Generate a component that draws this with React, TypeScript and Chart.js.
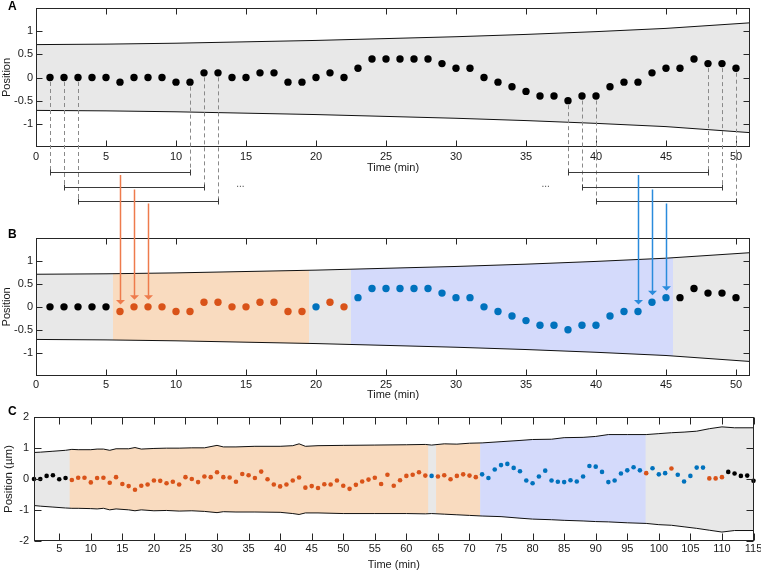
import React, { useEffect, useRef } from 'react';
import { Chart, registerables } from 'chart.js';
Chart.register(...registerables);

const FONT = '"Liberation Sans", Arial, Helvetica, sans-serif';

// ---------- Panels A & B ----------
const timeAB = [1, 2, 3, 4, 5, 6, 7, 8, 9, 10, 11, 12, 13, 14, 15, 16, 17, 18, 19, 20, 21, 22, 23, 24, 25,
  26, 27, 28, 29, 30, 31, 32, 33, 34, 35, 36, 37, 38, 39, 40, 41, 42, 43, 44, 45, 46, 47, 48, 49, 50];
const posAB = [0, 0, 0, 0, 0, -0.1, 0, 0, 0, -0.1, -0.1, 0.1, 0.1, 0, 0, 0.1, 0.1, -0.1, -0.1, 0, 0.1, 0, 0.2, 0.4, 0.4,
  0.4, 0.4, 0.4, 0.3, 0.2, 0.2, 0, -0.1, -0.2, -0.3, -0.4, -0.4, -0.5, -0.4, -0.4, -0.2, -0.1, -0.1, 0.1, 0.2, 0.2, 0.4, 0.3, 0.3, 0.2];
// 0 = unassigned (black), 1 = orange, 2 = blue
const classB = '00000' + '11111111111111' + '2' + '11' + '22222222222222222222222' + '00000';

const envABTime = [0, 5, 10, 15, 20, 25, 30, 35, 40, 45, 51];
const envABUpper = [0.71, 0.72, 0.74, 0.77, 0.8, 0.84, 0.88, 0.93, 0.99, 1.06, 1.18];
const envABLower = [-0.71, -0.72, -0.74, -0.77, -0.8, -0.84, -0.88, -0.93, -0.99, -1.06, -1.19];

const regionBStart = [5.5, 22.5];
const regionBEnd = [19.5, 45.5];
const regionBClass = [1, 2];

const windowStart = [1, 2, 3, 38, 39, 40];
const windowEnd = [11, 12, 13, 48, 49, 50];
const windowRow = [0, 1, 2, 0, 1, 2];
const arrowTime = [6, 7, 8, 43, 44, 45];
const ellipsisTime = [14.6, 36.4];

const xTicksAB = [0, 5, 10, 15, 20, 25, 30, 35, 40, 45, 50];
const yTicksAB = [-1, -0.5, 0, 0.5, 1];
const yTickLabelsAB = ['-1', '-0.5', '0', '0.5', '1'];

// ---------- Panel C ----------
const timeC = [1, 2, 3, 4, 5, 6, 7, 8, 9, 10, 11, 12, 13, 14, 15, 16, 17, 18, 19, 20,
  21, 22, 23, 24, 25, 26, 27, 28, 29, 30, 31, 32, 33, 34, 35, 36, 37, 38, 39, 40,
  41, 42, 43, 44, 45, 46, 47, 48, 49, 50, 51, 52, 53, 54, 55, 56, 57, 58, 59, 60,
  61, 62, 63, 64, 65, 66, 67, 68, 69, 70, 71, 72, 73, 74, 75, 76, 77, 78, 79, 80,
  81, 82, 83, 84, 85, 86, 87, 88, 89, 90, 91, 92, 93, 94, 95, 96, 97, 98, 99, 100,
  101, 102, 103, 104, 105, 106, 107, 108, 109, 110, 111, 112, 113, 114, 115];
const posC = [0, 0, 0.1, 0.12, -0.01, 0.03, -0.03, 0.04, 0.04, -0.11,
  0.03, 0.04, -0.12, 0.06, -0.16, -0.23, -0.35, -0.22, -0.18, -0.05,
  -0.06, -0.14, -0.09, -0.18, 0.06, 0, -0.1, 0.08, 0.06, 0.22,
  0.06, 0.05, -0.09, 0.16, 0.12, 0.03, 0.24, -0.01, -0.18, -0.24,
  -0.18, -0.05, 0.05, -0.28, -0.23, -0.29, -0.17, -0.18, -0.05, -0.22,
  -0.32, -0.19, -0.08, -0.02, 0.04, -0.16, 0.14, -0.22, -0.04, 0.1,
  0.14, 0.22, 0.11, 0.1, 0.08, 0.12, -0.01, 0.1, 0.15, 0.11,
  0.06, 0.15, 0.03, 0.31, 0.45, 0.49, 0.36, 0.25, -0.05, -0.14,
  0.08, 0.27, -0.05, -0.09, -0.1, -0.04, -0.08, 0.08, 0.42, 0.4,
  0.23, -0.1, -0.05, 0.18, 0.28, 0.38, 0.28, 0.19, 0.35, 0.15,
  0.19, 0.34, 0.14, -0.08, 0.1, 0.37, 0.37, 0.02, 0.02, 0.06,
  0.23, 0.18, 0.1, 0.11, -0.06];
const classC = '000000' +
  '1111111111' + '1111111111' + '1111111111' + '1111111111' + '1111111111' + '1111111' +
  '2' + '1111111' +
  '2222222222' + '2222222222' + '222222' +
  '1' + '222' + '1' + '22222' + '111' + '00000';

const envCTime = [1, 2, 4, 6, 7, 8, 10, 11, 12, 13, 14, 16, 17, 18, 20, 22, 24, 26, 28, 30,
  31, 33, 36, 40, 42, 43, 44, 46, 50, 55, 60, 63, 64, 66, 68, 70, 72, 75, 78, 80,
  83, 85, 88, 90, 92, 95, 98, 100, 102, 104, 106, 108, 110, 112, 115];
const envCUpper = [0.86, 0.87, 0.9, 0.93, 0.96, 0.95, 0.95, 0.97, 0.97, 0.93, 0.98, 0.98, 1.02, 0.97, 0.99, 1.0, 1.0, 1.01, 1.01, 1.09,
  1.04, 1.04, 1.06, 1.06, 1.08, 1.14, 1.06, 1.08, 1.09, 1.1, 1.11, 1.12, 1.1, 1.14, 1.13, 1.16, 1.17, 1.21, 1.25, 1.28,
  1.29, 1.34, 1.35, 1.38, 1.44, 1.44, 1.44, 1.47, 1.5, 1.52, 1.55, 1.63, 1.69, 1.66, 1.66];
const envCLower = [-0.86, -0.88, -0.91, -0.94, -0.95, -0.95, -0.96, -0.97, -0.95, -1.0, -0.97, -1.0, -1.03, -1.0, -1.03, -1.02, -1.04, -1.03, -1.05, -1.09,
  -1.06, -1.07, -1.07, -1.08, -1.12, -1.15, -1.1, -1.1, -1.12, -1.12, -1.12, -1.13, -1.12, -1.14, -1.16, -1.18, -1.2, -1.22, -1.27, -1.3,
  -1.32, -1.34, -1.36, -1.38, -1.39, -1.42, -1.44, -1.48, -1.5, -1.55, -1.6, -1.66, -1.72, -1.67, -1.67];

const regionCStart = [6.65, 64.7, 71.7];
const regionCEnd = [63.45, 71.7, 97.9];
const regionCClass = [1, 1, 2];

const xTicksC = [5, 10, 15, 20, 25, 30, 35, 40, 45, 50, 55, 60, 65, 70, 75, 80, 85, 90, 95, 100, 105, 110, 115];
const yTicksC = [-2, -1, 0, 1, 2];
const yTickLabelsC = ['-2', '-1', '0', '1', '2'];

// ---------- styles ----------
const CLASS_COLORS = ['#000000', '#D95319', '#0072BD'];
const REGION_COLORS = ['#E8E8E8', '#F9DBBF', '#D4DAFB'];
const ARROW_COLORS = ['#000000', '#EE7B4C', '#2A8BDC'];
const BRACKET_OFFSET = [25, 39.5, 53.5];

function envAt(ts: number[], vs: number[], t: number): number {
  if (t <= ts[0]) return vs[0];
  for (let i = 1; i < ts.length; i++) {
    if (t <= ts[i]) {
      const f = (t - ts[i - 1]) / (ts[i] - ts[i - 1]);
      return vs[i - 1] + f * (vs[i] - vs[i - 1]);
    }
  }
  return vs[vs.length - 1];
}

function shade(chart: any, env: any, t0: number, t1: number, color: string) {
  const { ctx, scales: { x, y } } = chart;
  const ts = [t0, ...env.t.filter((v: number) => v > t0 && v < t1), t1];
  ctx.beginPath();
  ts.forEach((t: number, i: number) => {
    const px = x.getPixelForValue(t);
    const py = y.getPixelForValue(envAt(env.t, env.up, t));
    if (i) ctx.lineTo(px, py); else ctx.moveTo(px, py);
  });
  for (let i = ts.length - 1; i >= 0; i--) {
    ctx.lineTo(x.getPixelForValue(ts[i]), y.getPixelForValue(envAt(env.t, env.lo, ts[i])));
  }
  ctx.closePath();
  ctx.fillStyle = color;
  ctx.fill();
}

function buildChart(canvas: HTMLCanvasElement, cfg: any) {
  const zeroPad = (s: any) => { s.paddingLeft = 0; s.paddingRight = 0; s.paddingTop = 0; s.paddingBottom = 0; };
  const decor = {
    id: 'decor',
    beforeDatasetsDraw(chart: any) {
      const ctx = chart.ctx;
      ctx.save();
      shade(chart, cfg.env, cfg.xMin, cfg.xMax, REGION_COLORS[0]);
      cfg.regionStart.forEach((s: number, i: number) =>
        shade(chart, cfg.env, s, cfg.regionEnd[i], REGION_COLORS[cfg.regionClass[i]]));
      ctx.restore();
    },
    afterDatasetsDraw(chart: any) {
      const { ctx, chartArea: a, scales: { x, y } } = chart;
      ctx.save();
      ctx.strokeStyle = '#262626';
      ctx.lineWidth = 1;
      const L = Math.round(a.left) + 0.5, R = Math.round(a.right) - 0.5;
      const T = Math.round(a.top) + 0.5, B = Math.round(a.bottom) - 0.5;
      ctx.strokeRect(L, T, R - L, B - T);
      ctx.beginPath();
      cfg.xTicks.forEach((v: number) => {
        const px = Math.round(x.getPixelForValue(v)) + 0.5;
        ctx.moveTo(px, B); ctx.lineTo(px, B - cfg.tickLen);
        ctx.moveTo(px, T); ctx.lineTo(px, T + cfg.tickLen);
      });
      cfg.yTicks.forEach((v: number) => {
        const py = Math.round(y.getPixelForValue(v)) + 0.5;
        ctx.moveTo(L, py); ctx.lineTo(L + cfg.tickLen, py);
        ctx.moveTo(R, py); ctx.lineTo(R - cfg.tickLen, py);
      });
      ctx.stroke();
      ctx.fillStyle = '#000';
      ctx.font = `bold 12px ${FONT}`;
      ctx.textAlign = 'left';
      ctx.textBaseline = 'middle';
      ctx.fillText(cfg.letter, 8, cfg.letterY);
      ctx.restore();
      if (cfg.extra) cfg.extra(chart);
    },
  };

  const tickFont = { family: FONT, size: 11 };
  return new Chart(canvas, {
    type: 'scatter',
    data: {
      datasets: [
        {
          data: cfg.points.t.map((t: number, i: number) => ({ x: t, y: cfg.points.v[i] })),
          pointRadius: cfg.radius,
          pointBorderWidth: 0,
          pointBackgroundColor: cfg.points.cls.map((c: number) => CLASS_COLORS[c]),
          pointBorderColor: cfg.points.cls.map((c: number) => CLASS_COLORS[c]),
          clip: false,
        },
        {
          data: cfg.env.t.map((t: number, i: number) => ({ x: t, y: cfg.env.up[i] })),
          showLine: true, pointRadius: 0, borderColor: '#111', borderWidth: 1, tension: 0,
        },
        {
          data: cfg.env.t.map((t: number, i: number) => ({ x: t, y: cfg.env.lo[i] })),
          showLine: true, pointRadius: 0, borderColor: '#111', borderWidth: 1, tension: 0,
        },
      ],
    },
    options: {
      responsive: false,
      animation: false,
      events: [],
      layout: { padding: { left: 0, top: cfg.padTop, right: cfg.padRight, bottom: 0 } },
      plugins: { legend: { display: false }, tooltip: { enabled: false } },
      scales: {
        x: {
          type: 'linear', min: cfg.xMin, max: cfg.xMax,
          afterBuildTicks: (s: any) => { s.ticks = cfg.xTicks.map((v: number) => ({ value: v })); },
          afterFit: (s: any) => { s.height = cfg.xHeight; zeroPad(s); },
          grid: { display: false, drawTicks: false },
          border: { display: false },
          ticks: {
            autoSkip: false, maxRotation: 0, padding: cfg.xLabelPad, color: '#1a1a1a', font: tickFont,
            callback: (v: any) => String(v),
          },
          title: {
            display: true, text: 'Time (min)', color: '#1a1a1a', font: tickFont,
            padding: { top: 0, bottom: cfg.xTitlePad },
          },
        },
        y: {
          type: 'linear', min: cfg.yMin, max: cfg.yMax,
          afterBuildTicks: (s: any) => { s.ticks = cfg.yTicks.map((v: number) => ({ value: v })); },
          afterFit: (s: any) => { s.width = cfg.yWidth; zeroPad(s); },
          grid: { display: false, drawTicks: false },
          border: { display: false },
          ticks: {
            autoSkip: false, padding: cfg.yLabelPad, color: '#1a1a1a', font: tickFont,
            callback: (v: any) => cfg.yLabels[cfg.yTicks.indexOf(v)] ?? String(v),
          },
          title: {
            display: true, text: cfg.yTitle, color: '#1a1a1a', font: { family: FONT, size: cfg.yTitleSize },
            padding: { top: cfg.yTitlePad, bottom: 0 },
          },
        },
      },
    },
    plugins: [decor],
  } as any);
}

const HA = 225, HB = 179, HC = 168;

export default function App() {
  const refA = useRef<HTMLCanvasElement>(null);
  const refB = useRef<HTMLCanvasElement>(null);
  const refC = useRef<HTMLCanvasElement>(null);

  useEffect(() => {
    const clsB = classB.split('').map(Number);
    const clsC = classC.split('').map(Number);
    const envAB = { t: envABTime, up: envABUpper, lo: envABLower };
    const common = {
      xMin: 0, xMax: 51, xTicks: xTicksAB, yMin: -1.5, yMax: 1.5, yTicks: yTicksAB, yLabels: yTickLabelsAB,
      yTitle: 'Position', yTitleSize: 11, yTitlePad: 0, yWidth: 36, padRight: 11, yLabelPad: 3, xLabelPad: 3,
      radius: 3.7, tickLen: 6, env: envAB,
    };

    const extraA = (chart: any) => {
      const { ctx, chartArea: a, scales: { x, y } } = chart;
      ctx.save();
      ctx.strokeStyle = '#8a8a8a';
      ctx.lineWidth = 1;
      ctx.setLineDash([4, 3]);
      windowStart.forEach((s: number, i: number) => {
        const by = Math.round(a.bottom + BRACKET_OFFSET[windowRow[i]]) + 0.5;
        [s, windowEnd[i]].forEach((t) => {
          const px = Math.round(x.getPixelForValue(t)) + 0.5;
          const py = y.getPixelForValue(posAB[timeAB.indexOf(t)]) + 4.5;
          ctx.beginPath(); ctx.moveTo(px, py); ctx.lineTo(px, by); ctx.stroke();
        });
      });
      ctx.setLineDash([]);
      ctx.strokeStyle = '#3a3a3a';
      windowStart.forEach((s: number, i: number) => {
        const by = Math.round(a.bottom + BRACKET_OFFSET[windowRow[i]]) + 0.5;
        const x0 = Math.round(x.getPixelForValue(s)) + 0.5;
        const x1 = Math.round(x.getPixelForValue(windowEnd[i])) + 0.5;
        ctx.beginPath();
        ctx.moveTo(x0, by); ctx.lineTo(x1, by);
        ctx.moveTo(x0, by - 3); ctx.lineTo(x0, by + 3);
        ctx.moveTo(x1, by - 3); ctx.lineTo(x1, by + 3);
        ctx.stroke();
      });
      ctx.fillStyle = '#555';
      ctx.font = `10px ${FONT}`;
      ctx.textAlign = 'center';
      ctx.textBaseline = 'middle';
      ellipsisTime.forEach((t) => ctx.fillText('...', x.getPixelForValue(t), a.bottom + BRACKET_OFFSET[1] - 2));
      ctx.lineWidth = 1.5;
      arrowTime.forEach((t: number, i: number) => {
        const cls = clsB[timeAB.indexOf(t)];
        const px = Math.round(x.getPixelForValue(t)) + 0.5;
        ctx.strokeStyle = ARROW_COLORS[cls];
        ctx.beginPath();
        ctx.moveTo(px, a.bottom + BRACKET_OFFSET[windowRow[i]] + 3);
        ctx.lineTo(px, chart.height + 1);
        ctx.stroke();
      });
      ctx.restore();
    };

    const extraB = (chart: any) => {
      const { ctx, scales: { x, y } } = chart;
      ctx.save();
      ctx.lineWidth = 1.5;
      arrowTime.forEach((t: number) => {
        const idx = timeAB.indexOf(t);
        const cls = clsB[idx];
        const px = Math.round(x.getPixelForValue(t)) + 0.5;
        const tip = y.getPixelForValue(posAB[idx]) - 7;
        ctx.strokeStyle = ARROW_COLORS[cls];
        ctx.fillStyle = ARROW_COLORS[cls];
        ctx.beginPath(); ctx.moveTo(px, -1); ctx.lineTo(px, tip - 4); ctx.stroke();
        ctx.beginPath();
        ctx.moveTo(px - 4.5, tip - 4.5); ctx.lineTo(px + 4.5, tip - 4.5); ctx.lineTo(px, tip);
        ctx.closePath(); ctx.fill();
      });
      ctx.restore();
    };

    const chartA = buildChart(refA.current!, {
      ...common, padTop: 8, xHeight: HA - 147, xTitlePad: 50, letter: 'A', letterY: 6.5,
      regionStart: [], regionEnd: [], regionClass: [],
      points: { t: timeAB, v: posAB, cls: timeAB.map(() => 0) }, extra: extraA,
    });
    const chartB = buildChart(refB.current!, {
      ...common, padTop: 13, xHeight: HB - 150.7, xTitlePad: 2, letter: 'B', letterY: 9.5,
      regionStart: regionBStart, regionEnd: regionBEnd, regionClass: regionBClass,
      points: { t: timeAB, v: posAB, cls: clsB }, extra: extraB,
    });
    const chartC = buildChart(refC.current!, {
      xMin: 1, xMax: 115, xTicks: xTicksC, yMin: -2, yMax: 2, yTicks: yTicksC, yLabels: yTickLabelsC,
      yTitle: 'Position (\u00b5m)', yTitleSize: 11.5, yTitlePad: 2, yWidth: 34, padRight: 7.5, yLabelPad: 5, xLabelPad: 2,
      radius: 2.3, tickLen: 7, env: { t: envCTime, up: envCUpper, lo: envCLower },
      padTop: 13.3, xHeight: HC - 136.7, xTitlePad: 0, letter: 'C', letterY: 8,
      regionStart: regionCStart, regionEnd: regionCEnd, regionClass: regionCClass,
      points: { t: timeC, v: posC, cls: clsC },
    });
    return () => { chartA.destroy(); chartB.destroy(); chartC.destroy(); };
  }, []);

  const cs = (top: number): React.CSSProperties => ({ position: 'absolute', left: 0, top, display: 'block' });
  return (
    <div style={{ position: 'absolute', left: 0, top: 0, width: 761, height: 572, background: '#fff' }}>
      <canvas ref={refA} width={761} height={HA} style={cs(0)} />
      <canvas ref={refB} width={761} height={HB} style={cs(HA)} />
      <canvas ref={refC} width={761} height={HC} style={cs(HA + HB)} />
    </div>
  );
}
